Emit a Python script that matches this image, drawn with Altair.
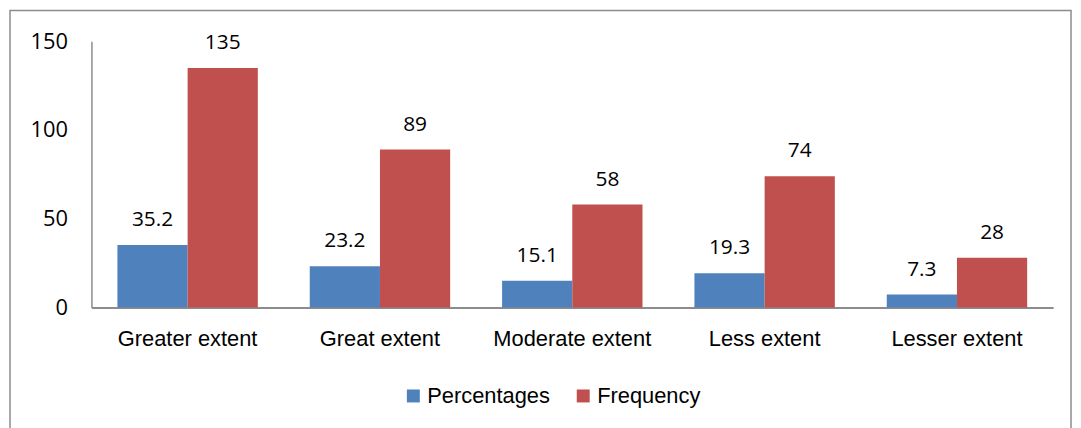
import altair as alt
import pandas as pd

categories = ["Greater extent", "Great extent", "Moderate extent", "Less extent", "Lesser extent"]
percentages = [35.2, 23.2, 15.1, 19.3, 7.3]
frequency = [135, 89, 58, 74, 28]
series = ["Percentages", "Frequency"]
colors = ["#4F81BD", "#C0504D"]

rows = []
for c, p, f in zip(categories, percentages, frequency):
    rows.append({"category": c, "series": "Percentages", "value": p, "label": f"{p:.1f}"})
    rows.append({"category": c, "series": "Frequency", "value": f, "label": f"{f}"})
df = pd.DataFrame(rows)

W, H = 968, 268

x = alt.X("category:N", sort=categories, title=None,
          scale=alt.Scale(paddingInner=0.27, paddingOuter=0.135),
          axis=alt.Axis(labelAngle=0, ticks=False, labelPadding=21, labelFontSize=22,
                        labelFont="Liberation Sans", labelColor="#000000",
                        domainColor="#8C8C8C", domainWidth=2))
xo = alt.XOffset("series:N", sort=series, scale=alt.Scale(paddingInner=0, paddingOuter=0))
y = alt.Y("value:Q", title=None,
          scale=alt.Scale(domain=[0, 150], nice=False),
          axis=alt.Axis(values=[0, 50, 100, 150], grid=False, ticks=False, labelPadding=24,
                        labelFontSize=22, labelFont="Open Sans", labelColor="#000000",
                        domainColor="#8C8C8C", domainWidth=1.5))
color = alt.Color("series:N", sort=series, scale=alt.Scale(domain=series, range=colors),
                  legend=alt.Legend(title=None, orient="none", direction="horizontal",
                                    legendX=313, legendY=346, symbolType="square",
                                    symbolSize=170, symbolStrokeWidth=0, labelFontSize=22,
                                    labelFont="Liberation Sans", labelColor="#000000",
                                    columnPadding=22, labelOffset=3))

base = alt.Chart(df)
bars = base.mark_bar(opacity=1).encode(x=x, xOffset=xo, y=y, color=color)
labels = base.mark_text(baseline="bottom", dy=-15, fontSize=21, font="Open Sans",
                        color="#000000").encode(x=x, xOffset=xo, y=y, text="label:N")

border = alt.Chart(pd.DataFrame({"a": [0]})).mark_rect(
    fill=None, stroke="#8C8C8C", strokeWidth=1.5, clip=False
).encode(x=alt.value(-82), x2=alt.value(986), y=alt.value(-31), y2=alt.value(420))

chart = alt.layer(border, bars, labels).properties(
    width=W, height=H,
    autosize=alt.AutoSizeParams(type="none"),
    padding={"left": 84, "top": 32, "right": 20, "bottom": 160},
).configure(background="#FFFFFF", view=alt.ViewConfig(stroke=None))

chart.save("out.html", embed_options={"renderer": "svg", "actions": False})
